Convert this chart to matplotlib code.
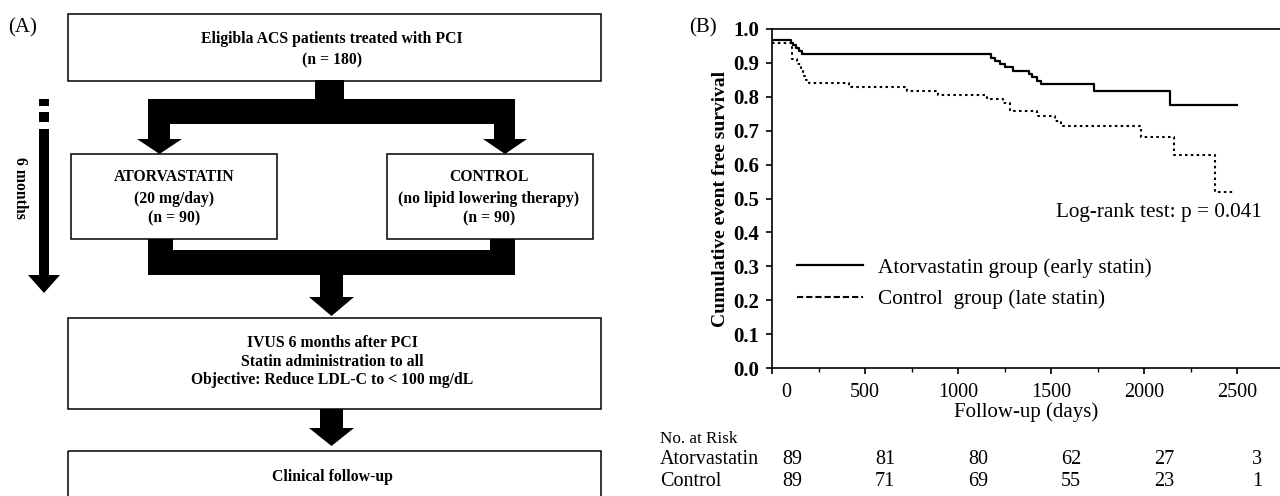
import numpy as np
import matplotlib
matplotlib.use("Agg")
import matplotlib.pyplot as plt
from matplotlib.patches import Rectangle, Polygon
from matplotlib.lines import Line2D
import matplotlib.transforms as mtransforms

plt.rcParams["font.family"] = ["Liberation Serif", "DejaVu Serif"]

W, H = 1280, 496

# Kaplan-Meier step values
atorva_days = [0, 100, 114, 130, 144, 160, 1180, 1200, 1224, 1254, 1294, 1380, 1400, 1424, 1444, 1730, 2138, 2500]
atorva_surv = [0.969, 0.960, 0.953, 0.944, 0.935, 0.925, 0.915, 0.905, 0.898, 0.888, 0.877, 0.866, 0.858, 0.848, 0.838, 0.817, 0.776, 0.776]

control_days = [0, 104, 108, 134, 154, 164, 174, 184, 200, 414, 728, 894, 1154, 1244, 1280, 1424, 1520, 1554, 1984, 2160, 2384, 2484]
control_surv = [0.960, 0.950, 0.911, 0.896, 0.886, 0.874, 0.862, 0.850, 0.840, 0.828, 0.817, 0.806, 0.794, 0.783, 0.758, 0.743, 0.728, 0.715, 0.681, 0.627, 0.520, 0.520]

risk_days = [0, 500, 1000, 1500, 2000, 2500]
atorva_risk = [89, 81, 80, 62, 27, 3]
control_risk = [89, 71, 69, 55, 23, 1]

legend_labels = ["Atorvastatin group (early statin)", "Control  group (late statin)"]
pvalue_text = "Log-rank test: p = 0.041"

fig = plt.figure(figsize=(W / 100, H / 100), dpi=100)

# ---------------- (A) flow chart, drawn in pixel coordinates ----------------
axA = fig.add_axes([0, 0, 680 / W, 1])
axA.set_xlim(0, 680)
axA.set_ylim(H, 0)
axA.axis("off")


def box(x0, y0, x1, y1):
    axA.add_patch(Rectangle((x0, y0), x1 - x0, y1 - y0, fill=False, ec="black", lw=1.1))


def block(x0, y0, x1, y1):
    axA.add_patch(Rectangle((x0, y0), x1 - x0, y1 - y0, fc="black", ec="none"))


def head(x0, x1, y0, y1):
    axA.add_patch(Polygon([(x0, y0), (x1, y0), ((x0 + x1) / 2, y1)], closed=True, fc="black", ec="none"))


box(68, 14, 601, 81)
box(71, 154, 277, 239)
box(387, 154, 593, 239)
box(68, 318, 601, 409)
box(68, 451, 601, 530)

# split arrows
block(315, 80, 344, 100)
block(148, 99, 515, 124)
block(148, 123, 170, 140)
block(494, 123, 515, 140)
head(137, 182, 139, 154)
head(483, 527, 139, 154)
# join arrows
block(148, 239, 173, 251)
block(490, 239, 515, 251)
block(148, 250, 515, 275)
block(320, 274, 343, 298)
head(309, 354, 297, 316)
block(320, 409, 343, 429)
head(309, 354, 428, 446)
# time arrow
block(39, 99, 49, 106)
block(39, 112, 49, 122)
block(39, 129, 49, 276)
head(28, 60, 275, 293)

tb = dict(ha="center", va="center", fontsize=11.3, fontweight="bold")
axA.text(332, 39, "Eligibla ACS patients treated with PCI", **tb)
axA.text(332, 60, "(n = 180)", **tb)
axA.text(174, 177, "ATORVASTATIN", **tb)
axA.text(174, 199, "(20 mg/day)", **tb)
axA.text(174, 218, "(n = 90)", **tb)
axA.text(489, 177, "CONTROL", **tb)
axA.text(489, 199, "(no lipid lowering therapy)", **tb)
axA.text(489, 218, "(n = 90)", **tb)
axA.text(332, 343, "IVUS 6 months after PCI", **tb)
axA.text(332, 362, "Statin administration to all", **tb)
axA.text(332, 380, "Objective: Reduce LDL-C to < 100 mg/dL", **tb)
axA.text(332, 477, "Clinical follow-up", **tb)
axA.text(20, 188, "6 months", rotation=270, **tb)
axA.text(23, 28, "(A)", ha="center", va="center", fontsize=15)

# ---------------- (B) Kaplan-Meier curves ----------------
ax = fig.add_axes([772 / W, (H - 368) / H, (W - 772) / W, (368 - 29) / H])
ax.plot(atorva_days, atorva_surv, drawstyle="steps-post", color="black", lw=1.6)
ax.plot(control_days, control_surv, drawstyle="steps-post", color="black", lw=1.5,
        linestyle=(0, (1.2, 1.6)))
ax.set_xlim(0, (W - 772) / 93 * 500)
ax.set_ylim(0, 1.0)
ax.spines["right"].set_visible(False)
for s in ("left", "bottom", "top"):
    ax.spines[s].set_linewidth(1.2)

ax.set_yticks(np.arange(0, 1.01, 0.1))
ax.set_yticklabels([f"{v:.1f}" for v in np.arange(0, 1.01, 0.1)], fontsize=15, fontweight="bold")
ax.set_xticks(risk_days)
ax.set_xticklabels([str(d) for d in risk_days], fontsize=14.5)
ax.set_xticks(np.arange(250, 2750, 500), minor=True)
ax.tick_params(axis="both", which="major", direction="out", length=4, width=1.2, pad=5)
ax.tick_params(axis="x", which="minor", direction="out", length=3, width=1.0)
ax.tick_params(axis="x", which="major", pad=7)
lab0 = ax.xaxis.get_major_ticks()[0].label1
lab0.set_transform(lab0.get_transform() + mtransforms.ScaledTranslation(0.14, 0, fig.dpi_scale_trans))

ax.set_ylabel("Cumulative event free survival", fontsize=14, fontweight="bold", labelpad=3)
ax.set_xlabel("Follow-up (days)", fontsize=15, labelpad=0)

handles = [Line2D([], [], color="black", lw=1.6),
           Line2D([], [], color="black", lw=1.5, linestyle=(0, (3, 1.4)))]
ax.legend(handles, legend_labels, loc="upper left", bbox_to_anchor=((797 - 772) / 508, (368 - 258) / 339),
          frameon=False, fontsize=15.3, handlelength=3.1, handletextpad=0.7, labelspacing=0.55,
          borderpad=0, borderaxespad=0)

fig.text(1262 / W, 1 - 212 / H, pvalue_text, ha="right", va="center", fontsize=15.3)
fig.text(703 / W, 1 - 28 / H, "(B)", ha="center", va="center", fontsize=15)

# number at risk table
fig.text(660 / W, 1 - 439 / H, "No. at Risk", ha="left", va="center", fontsize=12.3)
fig.text(660 / W, 1 - 460 / H, "Atorvastatin", ha="left", va="center", fontsize=14.5)
fig.text(660 / W, 1 - 482 / H, "Control", ha="left", va="center", fontsize=14.5)
tr = mtransforms.blended_transform_factory(ax.transData, fig.transFigure) + \
    mtransforms.ScaledTranslation(0.2, 0, fig.dpi_scale_trans)
for d, a, c in zip(risk_days, atorva_risk, control_risk):
    ax.text(d, 1 - 460 / H, str(a), transform=tr, ha="center", va="center", fontsize=14.5, clip_on=False)
    ax.text(d, 1 - 482 / H, str(c), transform=tr, ha="center", va="center", fontsize=14.5, clip_on=False)

fig.savefig("out.png", dpi=100)
